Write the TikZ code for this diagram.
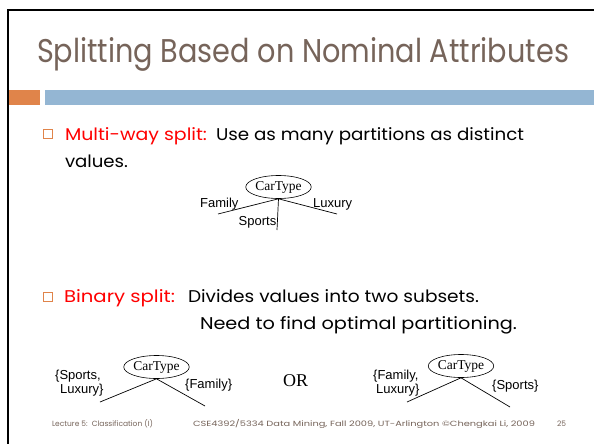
\documentclass[tikz,border=0pt]{standalone}
\usepackage{fontspec}
\usepackage{graphicx}
\setmainfont{Poppins}
\newfontfamily\arialfont{Liberation Sans}
\newfontfamily\timesfont{Liberation Serif}
\usetikzlibrary{shapes.geometric}
\definecolor{titlebrown}{HTML}{76645A}
\definecolor{accentorange}{HTML}{E0844A}
\definecolor{barblue}{HTML}{94B6D3}
\definecolor{bulletred}{HTML}{FF0000}
% set a run of text to a given width, keeping its height
\newcommand\fitw[2]{\resizebox{#1}{\height}{#2}}
\tikzset{
  px/.style={x=1pt,y=-1pt},
  txt/.style={anchor=base west,inner sep=0pt,outer sep=0pt},
  bodytext/.style={txt,font=\fontsize{17}{20}\selectfont},
  lbl/.style={anchor=base west,inner sep=0pt,font=\arialfont\fontsize{13}{14}\selectfont},
  attr/.style={ellipse,draw,line width=0.6pt,minimum width=#1,minimum height=23pt,inner sep=0pt,font=\timesfont\fontsize{13.5}{15}\selectfont},
  branch/.style={line width=0.7pt},
  bulletbox/.style={draw=accentorange,line width=0.7pt,minimum size=8.5pt,inner sep=0pt},
  foot/.style={txt,text=titlebrown,font=\fontsize{7.5}{9}\selectfont}
}
\begin{document}
\begin{tikzpicture}[px]
\useasboundingbox (0,0) rectangle (594,444);
\fill[white] (0,0) rectangle (594,444);
% slide frame
\draw[line width=2.4pt] (8,444) -- (8,10) -- (594,10);
% title
\node[txt,text=titlebrown,font=\fontsize{30}{36}\selectfont] (title) at (37,63)
  {\resizebox{532pt}{25pt}{Splitting Based on Nominal Attributes}};
% header bars
\fill[accentorange] (9,90) rectangle (40,105);
\fill[barblue] (45,90) rectangle (594,105);
% first bullet
\node[bulletbox] (b1) at (48,134) {};
\node[bodytext,text=bulletred] (l1a) at (65,140) {\fitw{142pt}{Multi-way split:}};
\node[bodytext] (l1b) at (216,140) {\fitw{308pt}{Use as many partitions as distinct}};
\node[bodytext] (l2) at (65,167) {\fitw{63pt}{values.}};
% multi-way tree
\node[attr=61pt] (ct1) at (278.5,187) {CarType};
\coordinate (m1a) at (218,214);
\coordinate (m1b) at (337,214);
\coordinate (m1c) at (277,230);
\draw[branch] (ct1.south) -- (m1a);
\draw[branch] (ct1.south) -- (m1b);
\draw[branch] (ct1.south) -- (m1c);
\node[lbl] (fam1) at (200,207) {Family};
\node[lbl] (lux1) at (313,207) {Luxury};
\node[lbl,anchor=base east] (spo1) at (276.5,225) {Sports};
% second bullet
\node[bulletbox] (b2) at (48,297) {};
\node[bodytext,text=bulletred] (l3a) at (64,302) {\fitw{111pt}{Binary split:}};
\node[bodytext] (l3b) at (188,302) {\fitw{291pt}{Divides values into two subsets.}};
\node[bodytext] (l4) at (200,329) {\fitw{317pt}{Need to find optimal partitioning.}};
% binary tree, left
\node[attr=57pt] (ct2) at (156.5,367) {CarType};
\coordinate (b2a) at (100,402);
\coordinate (b2b) at (205,406);
\draw[branch] (ct2.south) -- (b2a);
\draw[branch] (ct2.south) -- (b2b);
\node[lbl] (sl1) at (55,379) {\{Sports,};
\node[lbl] (sl2) at (60,393) {Luxury\}};
\node[lbl] (fa2) at (185,388) {\{Family\}};
% or
\node[anchor=base west,inner sep=0pt,font=\timesfont\fontsize{18}{20}\selectfont] (or) at (283,386) {OR};
% binary tree, right
\node[attr=62pt] (ct3) at (461,366) {CarType};
\coordinate (b3a) at (407,402);
\coordinate (b3b) at (510,407);
\draw[branch] (ct3.south) -- (b3a);
\draw[branch] (ct3.south) -- (b3b);
\node[lbl] (fl1) at (373,379) {\{Family,};
\node[lbl] (fl2) at (376,393) {Luxury\}};
\node[lbl] (sp3) at (492,389) {\{Sports\}};
% footer
\node[foot] (f1) at (52,426) {\fitw{101pt}{Lecture 5:\ \ Classification (I)}};
\node[foot] (f2) at (193,426) {\fitw{342pt}{CSE4392/5334 Data Mining, Fall 2009, UT-Arlington \textcopyright Chengkai Li, 2009}};
\node[foot] (f3) at (557,426) {\fitw{9pt}{25}};
\end{tikzpicture}
\end{document}
